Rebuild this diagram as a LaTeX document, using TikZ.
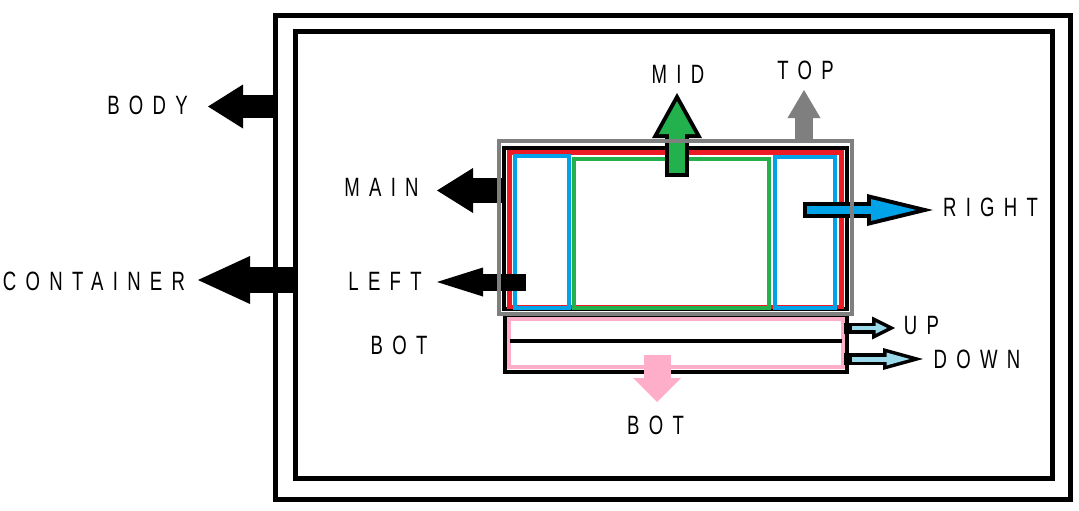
\documentclass[tikz,border=0pt]{standalone}
\usepackage{fontspec}
\setmainfont{Liberation Sans}[FakeStretch=0.7, LetterSpace=35]
\usepackage{tikz}
\usetikzlibrary{arrows.meta, positioning, fit, calc}

\definecolor{paintred}{RGB}{237,28,36}
\definecolor{paintblue}{RGB}{0,162,232}
\definecolor{paintgreen}{RGB}{34,177,76}
\definecolor{paintpink}{RGB}{255,174,201}
\definecolor{paintsky}{RGB}{153,217,234}
\definecolor{paintgray}{RGB}{127,127,127}

\begin{document}
\begin{tikzpicture}[
  x=1pt, y=-1pt,
  every node/.style={font=\fontsize{26.5}{30}\selectfont},
  frame/.style={draw, inner sep=0pt, outer sep=0pt, line width=4pt},
  lbl/.style={inner sep=0pt, anchor=center},
  fat/.style n args={3}{line width=#1pt, -{Triangle[length=#2pt, width=#3pt, line width=0pt]}},
]
\useasboundingbox (0,0) rectangle (1079,511);

% Frames
\node[frame, line width=5pt, fit={(275.5,16) (1070,499)}] (body) {};
\node[frame, line width=5pt, fit={(295,32) (1052,478)}] (cont) {};
\node[frame, fit={(504,147.5) (847,309)}] (mainbox) {};
\node[frame, draw=paintred, line width=4.5pt, fit={(509.5,152.5) (841.5,307)}] (redbox) {};
\node[frame, draw=paintblue, fit={(515,156) (568.5,308)}] (leftbox) {};
\node[frame, draw=paintgreen, fit={(574,158.5) (769,308)}] (midbox) {};
\node[frame, draw=paintblue, fit={(775,157) (835,308)}] (rightbox) {};
\node[frame, fit={(504.5,316) (847,371.5)}] (botbox) {};
\node[frame, draw=paintpink, fit={(508.5,319) (842.5,367)}] (botpink) {};
\draw[line width=4pt] (510,341) -- (842,341);

% Labels
\node[lbl] (bodylbl) at (147.5,105) {BODY};
\node[lbl] (contlbl) at (94,281) {CONTAINER};
\node[lbl] (mainlbl) at (381.5,187.5) {MAIN};
\node[lbl] (leftlbl) at (385,281) {LEFT};
\node[lbl] (botlbl) at (399,345) {BOT};
\node[lbl] (midlbl) at (678,74.5) {MID};
\node[lbl] (toplbl) at (805.5,70.5) {TOP};
\node[lbl] (rightlbl) at (990.5,207.5) {RIGHT};
\node[lbl] (uplbl) at (921.5,325.5) {UP};
\node[lbl] (downlbl) at (977,359.5) {DOWN};
\node[lbl] (botlbl2) at (655.5,425) {BOT};

% Arrow tips
\coordinate (bodytip) at (208,106.5);
\coordinate (conttip) at (198,280);
\coordinate (maintip) at (437,190.5);
\coordinate (lefttip) at (437,282);
\coordinate (midtip) at (677,93);
\coordinate (righttip) at (933,210);
\coordinate (uptip) at (895,328);
\coordinate (downtip) at (923,359);
\coordinate (bottip) at (657,402);
\coordinate (toptip) at (804,90);

% Black arrows
\draw[fat={23}{35}{44}] (body.west |- bodytip) -- (bodytip);
\draw[fat={26}{52}{48}, shorten <=-3pt] (cont.west |- conttip) -- (conttip);
\draw[fat={25}{36}{45}] (mainbox.west |- maintip) -- (maintip);
\draw[fat={17}{46}{29}, shorten <=-11pt] (leftbox.west |- lefttip) -- (lefttip);

% Outlined arrows
\draw[fat={24}{45}{50}, shorten <=-18.5pt] (midbox.north -| midtip) -- (midtip);
\draw[fat={16}{32.8}{36.4}, paintgreen, shorten <=-14.5pt, shorten >=8.2pt] (midbox.north -| midtip) -- (midtip);
\draw[fat={16}{66}{32}, shorten <=-2pt] (rightbox.center |- righttip) -- (righttip);
\draw[fat={8}{45}{21.8}, paintblue, shorten <=2pt, shorten >=17pt] (rightbox.center |- righttip) -- (righttip);
\draw[fat={11}{23}{23}, shorten <=-3pt] (botbox.east |- uptip) -- (uptip);
\draw[fat={4}{11.7}{11.7}, paintsky, shorten <=5pt, shorten >=7.8pt] (botbox.east |- uptip) -- (uptip);
\draw[fat={12}{40}{22}, shorten <=-3pt] (botbox.east |- downtip) -- (downtip);
\draw[fat={5}{23.3}{12.8}, paintsky, shorten <=5pt, shorten >=13.2pt] (botbox.east |- downtip) -- (downtip);

% Pink arrow
\draw[fat={27}{24}{48}, paintpink, shorten <=-16.5pt] (bottip |- botbox.south) -- (bottip);

% Gray frame on top
\node[frame, draw=paintgray, fit={(499,140.5) (852,314)}] (topbox) {};
\draw[fat={18}{28}{33}, paintgray] (topbox.north -| toptip) -- (toptip);

\end{tikzpicture}
\end{document}
